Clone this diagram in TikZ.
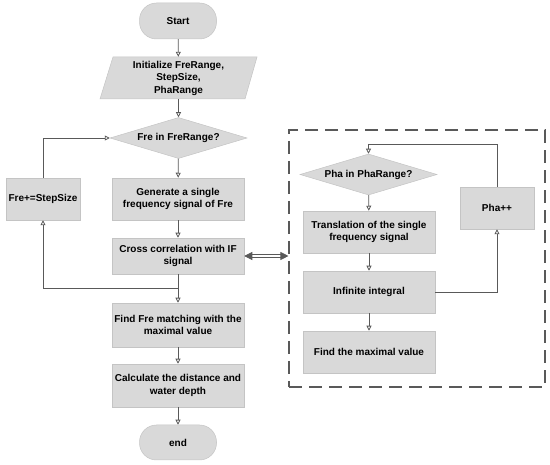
\documentclass[tikz,border=0pt]{standalone}
\usepackage{fontspec}
\setmainfont{Liberation Sans}
\usetikzlibrary{arrows.meta,shapes.geometric}
\definecolor{boxfill}{HTML}{D9D9D9}
\definecolor{boxline}{HTML}{C4C4C4}
\definecolor{lnk}{HTML}{595959}
\tikzset{
  base/.style={fill=boxfill, draw=boxline, line width=0.5pt, inner sep=1pt, align=center,
    font=\fontsize{10}{12.5}\selectfont\bfseries},
  proc/.style={base, rectangle, minimum width=132pt, minimum height=42pt},
  sideproc/.style={base, rectangle, minimum width=74pt, minimum height=42pt},
  term/.style={base, rectangle, rounded corners=17pt, minimum width=77pt, minimum height=36pt},
  decis/.style={base, diamond, aspect=3.4, minimum width=137pt, minimum height=41pt, inner sep=0pt},
  arr/.style={draw=lnk, line width=0.8pt, -{Triangle[open, length=5pt, width=5pt, fill=white]}},
  lin/.style={draw=lnk, line width=0.8pt},
  grpbox/.style={draw=lnk, line width=1.1pt, dash pattern=on 13pt off 7pt, rectangle},
  dbl/.style={draw=lnk, double=white, double distance=1.8pt, line width=0.8pt,
    {Triangle[length=8pt, width=8pt]}-{Triangle[length=8pt, width=8pt]}}
}
\begin{document}
\begin{tikzpicture}[x=1pt, y=-1pt]
\useasboundingbox (0,0) rectangle (550,465);
% left column
\node[term] (start) at (178,21) {Start};
\node[minimum width=132pt, minimum height=42pt, inner sep=0pt] (init) at (178.5,78) {};
\fill[boxfill, draw=boxline, line width=0.5pt] (113,57) -- (257,57) -- (245,99) -- (100,99) -- cycle;
\node[align=center, font=\fontsize{10}{12.5}\selectfont\bfseries] (initt) at (init.center) {Initialize FreRange,\\StepSize,\\PhaRange};
\node[decis] (fre) at (178.5,138) {Fre in FreRange?};
\node[proc] (gen) at (178,199) {Generate a single\\frequency signal of Fre};
\node[proc, minimum height=36pt] (cc) at (178,256) {Cross correlation with IF\\signal};
\node[sideproc] (step) at (43,199) {Fre+=StepSize};
\node[proc, minimum height=44pt] (find) at (178,325) {Find Fre matching with the\\maximal value};
\node[proc, minimum height=43pt] (calc) at (178,385.5) {Calculate the distance and\\water depth};
\node[term, minimum height=35pt] (endn) at (178,442.5) {end};
% right group
\node[grpbox, minimum width=256pt, minimum height=257pt] (grp) at (417,258.5) {};
\node[decis] (pha) at (368.5,174.5) {Pha in PhaRange?};
\node[proc] (trans) at (369,232) {Translation of the single\\frequency signal};
\node[proc] (integ) at (369,292) {Infinite integral};
\node[proc] (maxv) at (369,352) {Find the maximal value};
\node[sideproc] (phapp) at (497,208) {Pha++};
\coordinate (j1) at (178,288);
\coordinate (j2) at (368.5,144);
% connectors
\draw[arr] (start) -- (init);
\draw[arr] (init) -- (fre);
\draw[arr] (fre) -- (gen);
\draw[arr] (gen) -- (cc);
\draw[arr] (cc) -- (find);
\draw[arr] (j1) -| (step.south);
\draw[arr] (step.north) |- (fre.west);
\draw[arr] (find) -- (calc);
\draw[arr] (calc) -- (endn);
\draw[arr] (pha) -- (trans);
\draw[arr] (trans) -- (integ);
\draw[arr] (integ) -- (maxv);
\draw[arr] (integ.east) -| (phapp.south);
\draw[lin] (phapp.north) |- (j2);
\draw[arr] (j2) -- (pha.north);
\draw[dbl] (cc.east) -- (cc.east -| grp.west);
\end{tikzpicture}
\end{document}
